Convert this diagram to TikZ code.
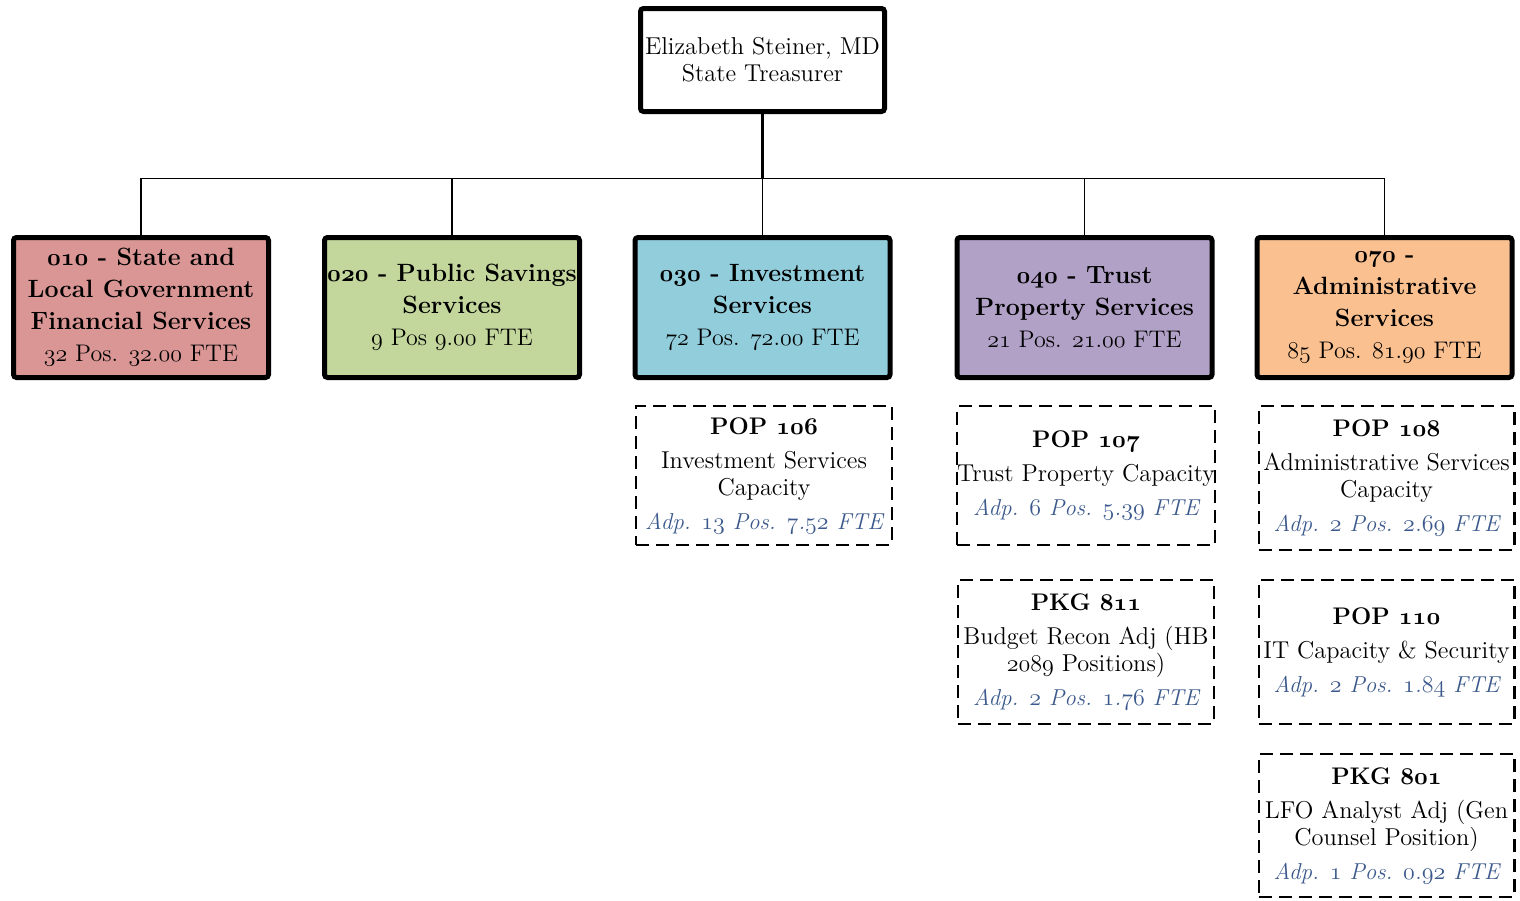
\documentclass[tikz,border=0pt]{standalone}
\usepackage{xcolor}
\definecolor{cpink}{HTML}{D99694}
\definecolor{cgreen}{HTML}{C3D69B}
\definecolor{cblue}{HTML}{92CDDC}
\definecolor{cpurple}{HTML}{B2A1C7}
\definecolor{corange}{HTML}{FAC090}
\definecolor{adpblue}{RGB}{59,89,140}
% old-style figures that follow the current weight
\makeatletter
\newcommand\on[1]{{\usefont{OML}{cmm}{\f@series}{it}#1}}
\makeatother
% a decimal number in old-style figures: \dn{7}{52} -> 7.52
\newcommand\dn[2]{\on{#1}.\on{#2}}
\newcommand\adp[1]{\textcolor{adpblue}{\fontsize{11.5}{13.5}\selectfont\itshape #1}}
\begin{document}
\begin{tikzpicture}[x=0.5pt,y=-0.5pt,
  solidbox/.style={draw, line width=2.5pt, rounded corners=1.5pt, align=center,
    inner sep=0pt, minimum width=127.5pt, minimum height=70pt,
    font=\fontsize{12.5}{16}\selectfont},
  popbox/.style={draw, line width=1.2pt, dash pattern=on 6.5pt off 3.5pt,
    align=center, inner sep=0pt, minimum width=127.8pt, minimum height=71.8pt,
    font=\fontsize{12.2}{13.5}\selectfont},
  trunk/.style={line width=1.4pt},
  link/.style={line width=0.8pt}]
\useasboundingbox (0,0) rectangle (1520,900);

% head of the agency
\node[solidbox, minimum width=122pt, minimum height=51.5pt,
  font=\fontsize{12.2}{13.5}\selectfont] (top) at (762.5,60)
  {Elizabeth Steiner, MD\\State Treasurer};

% divisions
\node[solidbox, fill=cpink] (d010) at (141,307.5)
  {\textbf{\on{010} - State and}\\\textbf{Local Government}\\\textbf{Financial Services}\\{\fontsize{12}{16}\selectfont\on{32} Pos. \dn{32}{00} FTE}};
\node[solidbox, fill=cgreen] (d020) at (452,307.5)
  {\textbf{\on{020} - Public Savings}\\\textbf{Services}\\{\fontsize{12}{16}\selectfont\on{9} Pos \dn{9}{00} FTE}};
\node[solidbox, fill=cblue] (d030) at (762.5,307.5)
  {\textbf{\on{030} - Investment}\\\textbf{Services}\\{\fontsize{12}{16}\selectfont\on{72} Pos. \dn{72}{00} FTE}};
\node[solidbox, fill=cpurple] (d040) at (1084.5,307.5)
  {\textbf{\on{040} - Trust}\\\textbf{Property Services}\\{\fontsize{12}{16}\selectfont\on{21} Pos. \dn{21}{00} FTE}};
\node[solidbox, fill=corange] (d070) at (1384.5,307.5)
  {\textbf{\on{070} -}\\\textbf{Administrative}\\\textbf{Services}\\{\fontsize{12}{16}\selectfont\on{85} Pos. \dn{81}{90} FTE}};

% policy option packages
\node[popbox, minimum height=69.3pt] (p106) at (764,475.5)
  {\textbf{\fontsize{12}{13.5}\selectfont POP \on{106}}\\[3.5pt]Investment Services\\Capacity\\[3.5pt]\adp{Adp. \on{13} Pos. \dn{7}{52} FTE}};
\node[popbox, minimum height=69.3pt] (p107) at (1086,475.5)
  {\textbf{\fontsize{12}{13.5}\selectfont POP \on{107}}\\[3.5pt]Trust Property Capacity\\[3.5pt]\adp{Adp. \on{6} Pos. \dn{5}{39} FTE}};
\node[popbox] (k811) at (1086,652)
  {\textbf{\fontsize{12}{13.5}\selectfont PKG \on{811}}\\[3.5pt]Budget Recon Adj (HB\\\on{2089} Positions)\\[3.5pt]\adp{Adp. \on{2} Pos. \dn{1}{76} FTE}};
\node[popbox] (p108) at (1386.5,478)
  {\textbf{\fontsize{12}{13.5}\selectfont POP \on{108}}\\[3.5pt]Administrative Services\\Capacity\\[3.5pt]\adp{Adp. \on{2} Pos. \dn{2}{69} FTE}};
\node[popbox] (p110) at (1386.5,652)
  {\textbf{\fontsize{12}{13.5}\selectfont POP \on{110}}\\[3.5pt]IT Capacity \& Security\\[3.5pt]\adp{Adp. \on{2} Pos. \dn{1}{84} FTE}};
\node[popbox, minimum height=71.3pt] (k801) at (1386.5,825.5)
  {\textbf{\fontsize{12}{13.5}\selectfont PKG \on{801}}\\[3.5pt]LFO Analyst Adj (Gen\\Counsel Position)\\[3.5pt]\adp{Adp. \on{1} Pos. \dn{0}{92} FTE}};

% reporting lines
\draw[trunk] (top.south) -- ++(0,64.5) coordinate (hub);
\foreach \b in {d010,d020,d030,d040,d070}
  \draw[link] (hub) -| (\b.north);
\end{tikzpicture}
\end{document}
